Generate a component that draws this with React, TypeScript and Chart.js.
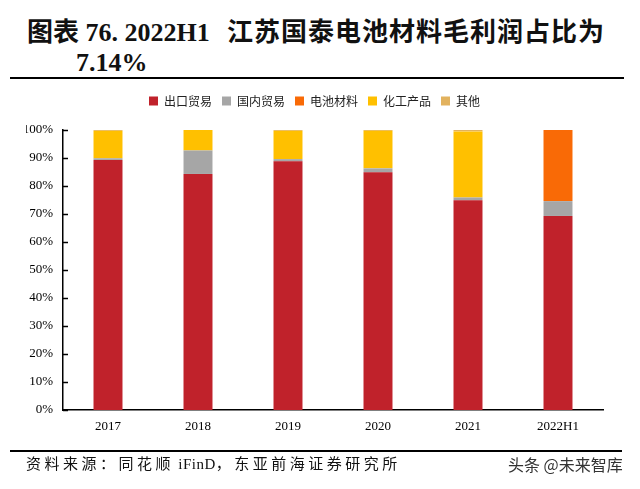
import React, { useEffect, useRef } from "react";
import { Chart, registerables } from "chart.js";

Chart.register(...registerables);

const categories = ["2017", "2018", "2019", "2020", "2021", "2022H1"];
const exportTrade = [89.3, 84.3, 88.8, 84.9, 74.9, 69.3];
const domesticTrade = [0.6, 8.4, 0.8, 1.4, 1.0, 5.3];
const batteryMaterials = [0, 0, 0, 0, 0, 25.4];
const chemicalProducts = [9.8, 7.3, 10.1, 13.4, 23.6, 0];
const others = [0.3, 0, 0.3, 0.3, 0.5, 0];
const seriesNames = ["出口贸易", "国内贸易", "电池材料", "化工产品", "其他"];
const yMax = 100;
const yStep = 10;

const seriesColors = ["#C0222B", "#A6A6A6", "#F96A06", "#FFC000", "#E2B25E"];
const SERIF = "'Liberation Serif', 'Times New Roman', serif";
const CJK = "'Noto Sans CJK SC', sans-serif";

const innerTicks = {
  id: "innerTicks",
  afterDatasetsDraw(chart: any) {
    const ys = chart.scales.y;
    const ctx = chart.ctx;
    const left = chart.chartArea.left;
    ctx.save();
    ctx.strokeStyle = "#000";
    ctx.lineWidth = 1.5;
    ys.ticks.forEach((t: any) => {
      const py = Math.round(ys.getPixelForValue(t.value)) + 0.5;
      ctx.beginPath();
      ctx.moveTo(left, py);
      ctx.lineTo(left + 5, py);
      ctx.stroke();
    });
    ctx.restore();
  },
};

const legendGap = {
  id: "legendGap",
  afterInit(chart: any) {
    const lg = chart.legend;
    if (!lg) return;
    const orig = lg.fit.bind(lg);
    lg.fit = function () {
      orig();
      this.height += 13;
    };
  },
};

const titleStyle: any = {
  position: "absolute",
  top: 20,
  fontFamily: "'Liberation Serif', 'Noto Sans CJK SC', serif",
  fontWeight: "bold",
  fontSize: 26,
  lineHeight: "26px",
  whiteSpace: "nowrap",
  color: "#111",
};

export default function App() {
  const ref = useRef<HTMLCanvasElement | null>(null);

  useEffect(() => {
    document.body.style.margin = "0";
    document.body.style.background = "#fff";
    const values = [exportTrade, domesticTrade, batteryMaterials, chemicalProducts, others];
    const chart = new Chart(ref.current as HTMLCanvasElement, {
      type: "bar",
      data: {
        labels: categories,
        datasets: values.map((v, i) => ({
          label: seriesNames[i],
          data: v,
          backgroundColor: seriesColors[i],
          borderWidth: 0,
          barPercentage: 0.322,
          categoryPercentage: 1,
        })),
      },
      options: {
        responsive: false,
        animation: false,
        layout: { padding: { top: 85, left: 26, right: 37, bottom: 49 } },
        plugins: {
          tooltip: { enabled: false },
          title: { display: false },
          legend: {
            display: true,
            position: "top",
            labels: {
              boxWidth: 9,
              boxHeight: 9,
              padding: 10,
              color: "#222",
              font: { family: CJK, size: 12 },
            },
          },
        },
        scales: {
          x: {
            stacked: true,
            grid: { display: false, drawTicks: false },
            border: { display: true, color: "#000", width: 1.5 },
            ticks: { color: "#000", font: { family: SERIF, size: 13 }, padding: 9 },
            afterFit(s: any) {
              s.height = 30;
            },
          },
          y: {
            stacked: true,
            min: 0,
            max: yMax,
            grid: { display: false, drawTicks: false },
            border: { display: true, color: "#000", width: 1.5 },
            ticks: {
              stepSize: yStep,
              color: "#000",
              font: { family: SERIF, size: 13 },
              padding: 10,
              callback: (v: any) => v + "%",
            },
            afterFit(s: any) {
              s.width = 37;
            },
          },
        },
      },
      plugins: [innerTicks, legendGap],
    });
    return () => chart.destroy();
  }, []);

  return (
    <div style={{ position: "relative", width: 640, height: 489, background: "#fff", overflow: "hidden" }}>
      <div style={{ ...titleStyle, left: 27 }}>图表 76. 2022H1</div>
      <div style={{ ...titleStyle, left: 227, letterSpacing: 1 }}>江苏国泰电池材料毛利润占比为</div>
      <div style={{ ...titleStyle, left: 76, top: 50, fontFamily: "'Liberation Serif', serif" }}>7.14%</div>
      <div style={{ position: "absolute", left: 10, top: 77, width: 614, height: 2, background: "#000" }} />
      <canvas ref={ref} width={640} height={489} style={{ position: "absolute", left: 0, top: 0 }} />
      <div style={{ position: "absolute", left: 10, top: 450, width: 612, height: 2, background: "#000" }} />
      <div
        style={{
          position: "absolute",
          left: 26,
          top: 455,
          fontFamily: "'Liberation Serif', 'Noto Sans CJK SC', serif",
          fontSize: 15,
          lineHeight: "18px",
          letterSpacing: 3.5,
          whiteSpace: "nowrap",
          color: "#111",
        }}
      >
        资料来源：同花顺<span style={{ letterSpacing: 0.5 }}> iFinD</span>，东亚前海证券研究所
      </div>
      <div
        style={{
          position: "absolute",
          left: 508,
          top: 455,
          fontFamily: "'Noto Sans CJK SC', sans-serif",
          fontSize: 16,
          lineHeight: "18px",
          whiteSpace: "nowrap",
          color: "#333",
        }}
      >
        头条 @未来智库
      </div>
    </div>
  );
}
